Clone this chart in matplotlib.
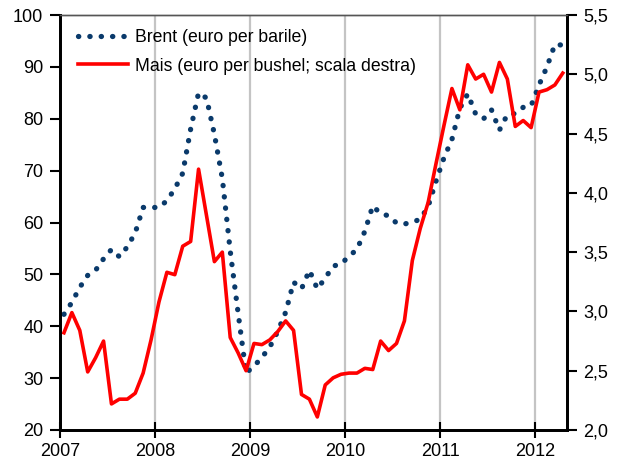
import matplotlib
matplotlib.use('Agg')
import matplotlib.pyplot as plt
from matplotlib.ticker import FuncFormatter
import numpy as np

plt.rcParams['font.family'] = ['Liberation Sans', 'DejaVu Sans']

# dati mensili, gen 2007 - apr 2012
anno_inizio = 2007
brent = [42.3, 44.6, 47.5, 49.8, 50.8, 53.0, 54.8, 53.4, 55.3, 58.0, 62.9, 62.9,
         62.9, 64.2, 66.5, 69.5, 78.0, 85.0, 84.0, 77.0, 68.5, 54.5, 42.5, 31.0,
         32.3, 34.0, 36.0, 39.0, 42.7, 48.5, 47.2, 50.8, 47.2, 49.3, 51.6, 52.0,
         53.5, 54.8, 58.3, 63.2, 61.7, 61.3, 59.9, 59.7, 60.1, 60.6, 63.1, 68.0,
         72.5, 76.0, 82.0, 84.8, 80.9, 80.0, 81.7, 77.8, 80.8, 81.0, 82.2, 82.5,
         86.5, 90.0, 94.3, 94.2]
mais = [2.82, 2.99, 2.84, 2.49, 2.61, 2.75, 2.22, 2.26, 2.26, 2.31, 2.48, 2.76,
        3.08, 3.33, 3.31, 3.55, 3.59, 4.20, 3.81, 3.42, 3.50, 2.78, 2.65, 2.50,
        2.73, 2.72, 2.76, 2.83, 2.92, 2.84, 2.30, 2.26, 2.11, 2.38, 2.44, 2.47,
        2.48, 2.48, 2.52, 2.51, 2.75, 2.67, 2.73, 2.92, 3.43, 3.70, 3.92, 4.25,
        4.57, 4.88, 4.70, 5.08, 4.96, 5.00, 4.85, 5.10, 4.96, 4.56, 4.61, 4.55,
        4.85, 4.87, 4.91, 5.01]
anni = [2007, 2008, 2009, 2010, 2011, 2012]
tick_sx = [20, 30, 40, 50, 60, 70, 80, 90, 100]
tick_dx = [2.0, 2.5, 3.0, 3.5, 4.0, 4.5, 5.0, 5.5]

x = anno_inizio + (np.arange(len(brent)) + 0.5) / 12

fig = plt.figure(figsize=(6.22, 4.68), dpi=100)
ax = fig.add_axes([60/622, 1 - 430/468, (566.7 - 60)/622, (430 - 15)/468])
ax2 = ax.twinx()

# griglia verticale sugli anni
for a in anni[1:]:
    ax.axvline(a, color='#c4c4c4', lw=1.6, zorder=0)

l1, = ax.plot(x, brent, color='#0a3a6b', lw=3.8, linestyle=(0, (0.05, 2.1)),
              dash_capstyle='round', label='Brent (euro per barile)')
l2, = ax2.plot(x, mais, color='#ff0000', lw=2.6,
               label='Mais (euro per bushel; scala destra)')

ax.set_xlim(2007, 2012.333)
ax.set_ylim(20, 100)
ax2.set_ylim(2.0, 5.5)
ax.set_xticks(anni)
ax.set_yticks(tick_sx)
ax2.set_yticks(tick_dx)
ax2.yaxis.set_major_formatter(FuncFormatter(lambda v, p: f'{v:.1f}'.replace('.', ',')))

for a in (ax, ax2):
    for s in ('left', 'right', 'bottom'):
        a.spines[s].set_linewidth(2)
    a.spines['top'].set_linewidth(1)
    a.spines['top'].set_color('#555555')
ax.tick_params(axis='y', direction='out', length=7, width=1.5, labelsize=13, pad=5)
ax2.tick_params(axis='y', direction='out', length=7, width=1.5, labelsize=13, pad=5)
ax.tick_params(axis='x', direction='inout', length=12, width=1.5, labelsize=13, pad=3)

leg = ax2.legend(handles=[l1, l2], loc='upper left', frameon=False, fontsize=12.7,
                 handlelength=2.85, handletextpad=0.4, labelspacing=0.65,
                 borderpad=0, borderaxespad=0, bbox_to_anchor=(0.035, 0.966))

fig.savefig('out.png', dpi=100)
